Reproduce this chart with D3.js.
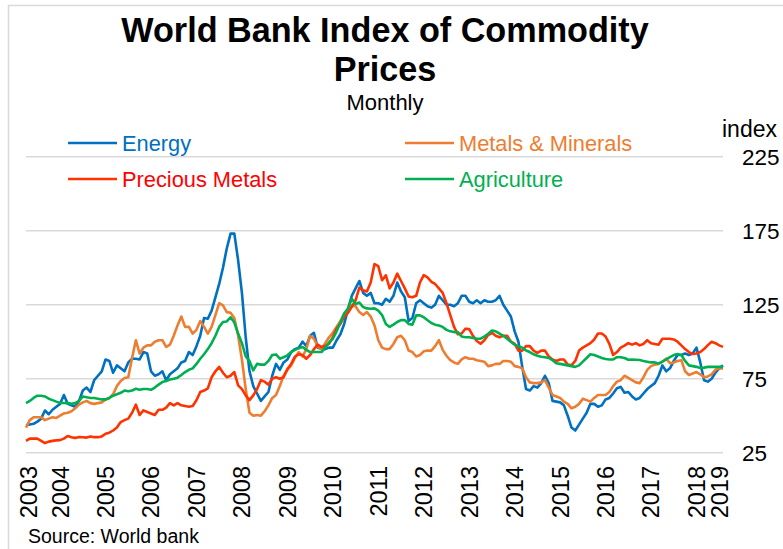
<!DOCTYPE html>
<html>
<head>
<meta charset="utf-8">
<script src="https://cdn.jsdelivr.net/npm/d3@7"></script>
<style>
  html, body { margin: 0; padding: 0; background: #fff; }
  svg { display: block; font-family: "Liberation Sans", Arial, sans-serif; }
</style>
</head>
<body>
<svg id="chart" width="783" height="549"></svg>
<script>
// ---- Data (monthly, starting Dec 2003) ----
const startMonth = "2003-12";

const energy = [
  43.5, 44, 44.5, 46, 48, 53.5, 51, 54, 56, 58,
  64, 58, 57, 56, 60, 67, 69, 66, 74, 77,
  80, 88, 87, 79, 84, 82, 80, 86, 88.5, 88.5,
  88, 93, 92, 80, 77, 78, 80, 74, 78, 80,
  82, 86, 87, 93, 91, 97, 104, 116, 115.5, 121,
  130, 139, 150, 163, 173, 173, 155, 133, 103, 80,
  70, 65, 60, 63, 66, 77, 85, 81, 86, 88,
  93, 95, 96, 100, 97, 104, 106, 96, 95, 95,
  96, 96, 101, 105, 112, 122, 131, 136, 141, 133,
  131, 133, 126, 126, 125, 129, 127, 131, 140, 134,
  130, 114, 116, 126, 128, 126, 124, 123, 125, 131,
  128, 125, 125, 124, 126, 131, 131, 127, 126, 128,
  126, 128, 127, 127, 128, 131, 125, 121, 117, 107,
  100, 83, 68, 67, 70, 69, 72, 77, 72, 60,
  59.5, 59, 57, 50, 42, 40, 44, 48, 52, 58,
  58, 56, 57, 61, 62, 65, 68.5, 69.5, 65.5, 66,
  63, 61, 62, 65, 68, 70, 72, 77, 84, 80,
  82, 87, 91, 91, 92, 91, 92, 96, 86, 74,
  73, 75, 79, 82, 84
];

const metals = [
  42, 47, 49, 49, 49, 47, 48, 49, 48.5, 50,
  51.5, 52, 53, 55, 57.5, 59, 60, 58.5, 58, 58.5,
  59, 61, 62, 64.5, 70, 73.5, 75.5, 76, 89, 101,
  92, 96, 97.5, 97.5, 100, 101, 101, 96.5, 98, 104,
  111, 117, 110, 110, 105.5, 108, 114, 110, 105.5, 110,
  118, 126, 124.5, 120, 119.5, 116, 104, 88, 68, 52,
  50, 50.5, 50, 53, 57, 62, 64, 70, 77, 81,
  84, 89, 93, 90, 95, 104, 102, 97, 95, 99,
  103, 106, 110, 114, 119, 121, 124.5, 124, 120, 118,
  120, 117, 111, 101, 96, 95, 95, 98.5, 103, 104,
  101, 94, 93, 90, 91, 93.5, 94, 94, 97, 101,
  94.5, 90.5, 87.5, 86, 85, 88, 89.5, 88.5, 88.5, 87.5,
  87, 86.5, 83.5, 84, 85, 85, 87, 87, 86.5, 83.5,
  83, 82, 76, 72.5, 72, 72, 72.5, 74, 69, 64,
  63, 62, 59.5, 58, 55, 56, 58, 61.5, 60.5, 59.5,
  62, 64, 64, 64, 66, 70, 73, 74, 77, 75.5,
  74, 72.5, 72, 76, 81, 83.5, 84.5, 85, 86.5, 88.5,
  85.5, 86, 87, 87.5, 80, 77.5, 78.5, 79.5, 78, 76,
  76.5, 78, 81, 82, 82
];

const precious = [
  33, 34.5, 34.5, 34.5, 33, 31.5, 32.5, 33, 33.3, 33.5,
  34.5, 36.3, 35.5, 35, 35.6, 35.4, 35.2, 36, 35.5, 35.5,
  36, 37.8, 38.5, 40, 42, 45.7, 47, 48, 52, 57.5,
  50.5, 53.6, 52.5, 51.5, 50.5, 54, 54, 55.5, 58.5, 57,
  58.5, 57, 56.5, 56, 56.5, 60.4, 66, 67, 68.5, 76,
  80, 83, 79, 76, 77, 79.5, 70.5, 68, 63.7, 60.5,
  63.7, 68, 74, 73, 71, 75, 76, 75, 76, 81.5,
  85, 90, 91.5, 91, 88.5, 91, 95, 98, 96.4, 97,
  98.6, 103, 109, 112, 117, 119.5, 123.5, 128, 136.5, 134.7,
  134, 140, 152.5, 151, 141.5, 144.8, 136, 140, 146, 141,
  136, 130.5, 130, 131, 140, 145, 143.5, 140.5, 139, 136,
  133, 126, 118, 110, 105, 105.5, 108.8, 108.5, 104, 100.5,
  98.6, 101, 104.5, 106, 104, 103, 104, 104, 100, 98.5,
  94, 94, 97, 97, 94, 92.5, 94, 94, 90, 88,
  87, 88, 88, 84.5, 84, 87, 94, 96, 97.5, 99,
  101.5, 105.5, 105.5, 103.5, 98.5, 91, 93, 96, 97.3, 99,
  98, 99, 97.5, 98.5, 101, 99, 98.5, 98, 102, 102,
  102, 101.5, 100, 97.5, 95, 93, 91.7, 92, 93, 95,
  97.7, 100, 99, 97.5, 96.5
];

const agriculture = [
  58.5, 60, 62, 63.5, 63.5, 63, 61.5, 60.5, 59.5, 58.6,
  58.6, 58.5, 58, 58.5, 60, 63, 62.5, 62, 62, 61.5,
  61, 61, 62, 63.5, 64.5, 65.5, 67, 66.5, 67, 68.2,
  67.5, 68, 68, 67.5, 69, 71, 72.7, 73.5, 74.5, 75,
  75.7, 77.5, 79.5, 81, 82, 85, 88.5, 91.5, 95, 99,
  104, 110, 113.3, 113.7, 116.5, 113, 105.5, 99, 90, 87,
  80.6, 85, 84.5, 84.5, 87, 91, 91.4, 88.5, 89.5, 90.8,
  93, 94.5, 95.5, 96.4, 94.5, 93, 93, 93, 93, 96,
  99.5, 102, 107, 113, 119, 122.5, 129, 125.5, 126.5, 123.4,
  122.5, 122.3, 122.5, 121, 118, 112, 110, 111.5, 113.3, 114.6,
  114.6, 112, 111.5, 117.8, 117.8, 116.5, 114.5, 112.6, 111.5, 111,
  110, 108, 107, 106.5, 106.5, 103.5, 103, 103, 102.5, 102,
  102, 103.5, 105.4, 107.5, 107, 105.5, 104, 102, 100, 98,
  97, 96, 94, 93, 91.5, 90.5, 89.8, 89.5, 89, 87.5,
  85.5, 85, 84.5, 84, 83.5, 83, 84, 86.5, 89, 91.5,
  91, 90, 89, 88.3, 88, 88, 89.5, 89.5, 89, 87.8,
  88, 87.8, 87.6, 87, 86.5, 86, 86, 85.3, 86.5, 88,
  89.5, 91, 91.7, 91, 87, 84, 83.5, 83, 82.2, 82.5,
  83, 83, 83, 83, 83
];

const seriesNames = ["Energy", "Metals & Minerals", "Precious Metals", "Agriculture"];
const yTicks = [25, 75, 125, 175, 225];
const xTickLabels = ["2003","2004","2005","2006","2007","2008","2009","2010","2011",
                     "2012","2013","2014","2015","2016","2017","2018","2019"];
const xTickMonthIndex = [0.8, 9, 21, 33, 45, 57, 69, 81, 93, 105, 117, 129, 141, 153, 165, 177, 183];

// ---- Styles ----
const colors = {
  "Energy": "#0070C0",
  "Metals & Minerals": "#ED7D31",
  "Precious Metals": "#FF3300",
  "Agriculture": "#00B050"
};
const textColors = {
  "Energy": "#0070C0",
  "Metals & Minerals": "#ED7D31",
  "Precious Metals": "#FF0000",
  "Agriculture": "#00B050"
};

const svg = d3.select("#chart");
const seriesData = [energy, metals, precious, agriculture];

const x = d3.scaleLinear().domain([0, energy.length - 1]).range([26, 723]);
const y = d3.scaleLinear().domain([25, 225]).range([452.7, 156.7]);

// outer chart border
svg.append("rect")
  .attr("x", 8.5).attr("y", 5.5)
  .attr("width", 820).attr("height", 600)
  .attr("fill", "none").attr("stroke", "#d9d9d9").attr("stroke-width", 1.5);

// gridlines
svg.append("g").selectAll("line").data(yTicks).join("line")
  .attr("x1", 26).attr("x2", 723)
  .attr("y1", d => y(d)).attr("y2", d => y(d))
  .attr("stroke", "#d9d9d9").attr("stroke-width", 1.5);

// y tick labels (right side)
svg.append("g").selectAll("text").data(yTicks).join("text")
  .attr("x", 742).attr("y", d => y(d))
  .attr("dy", "0.36em")
  .attr("font-size", 22.5)
  .attr("fill", "#000")
  .text(d => d);

svg.append("text")
  .attr("x", 722).attr("y", 137)
  .attr("font-size", 23)
  .attr("fill", "#000")
  .text("index");

// x tick labels (rotated)
svg.append("g").selectAll("text").data(xTickLabels).join("text")
  .attr("transform", (d, i) => `translate(${x(xTickMonthIndex[i])},466) rotate(-90)`)
  .attr("text-anchor", "end")
  .attr("dy", "0.36em")
  .attr("font-size", 23.5)
  .attr("fill", "#000")
  .text(d => d);

// lines
const line = d3.line().x((d, i) => x(i)).y(d => y(d));
svg.append("g").selectAll("path").data(seriesData).join("path")
  .attr("d", d => line(d))
  .attr("fill", "none")
  .attr("stroke", (d, i) => colors[seriesNames[i]])
  .attr("stroke-width", 2.6)
  .attr("stroke-linejoin", "round");

// legend
const legendPos = [
  {lx: 68, ly: 143}, {lx: 405, ly: 143},
  {lx: 68, ly: 179}, {lx: 405, ly: 179}
];
const lg = svg.append("g");
seriesNames.forEach((name, i) => {
  const p = legendPos[i];
  lg.append("line")
    .attr("x1", p.lx).attr("x2", p.lx + 49)
    .attr("y1", p.ly).attr("y2", p.ly)
    .attr("stroke", colors[name]).attr("stroke-width", 2.6);
  lg.append("text")
    .attr("x", p.lx + 54).attr("y", p.ly)
    .attr("dy", "0.36em")
    .attr("font-size", 21.8)
    .attr("fill", textColors[name])
    .text(name);
});

// titles
svg.append("text").attr("x", 385).attr("y", 42)
  .attr("text-anchor", "middle").attr("font-size", 34.2).attr("font-weight", "bold")
  .text("World Bank Index of Commodity");
svg.append("text").attr("x", 385).attr("y", 81)
  .attr("text-anchor", "middle").attr("font-size", 34.2).attr("font-weight", "bold")
  .text("Prices");
svg.append("text").attr("x", 385).attr("y", 110)
  .attr("text-anchor", "middle").attr("font-size", 22)
  .text("Monthly");

// source
svg.append("text").attr("x", 28).attr("y", 543)
  .attr("font-size", 19.5)
  .text("Source: World bank");
</script>
</body>
</html>
